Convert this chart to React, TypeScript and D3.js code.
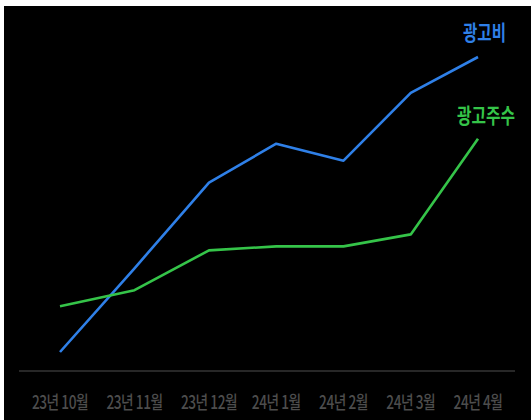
import React from "react";
import * as d3 from "d3";

const months = ["23년 10월", "23년 11월", "23년 12월", "24년 1월", "24년 2월", "24년 3월", "24년 4월"];
const adSpend = [1, 43, 86, 105.5, 97, 131, 149];
const advertisers = [24, 32, 52, 54, 54, 60, 108];
const seriesNames = ["광고비", "광고주수"];
const seriesColors = ["#2f80e8", "#35c449"];

const W = 531;
const H = 420;

export default function App() {
  // piecewise linear index scale (labels are slightly wider spaced on the left)
  const x = d3.scaleLinear().domain([0, 2, months.length - 1]).range([60, 209, 478]);
  const y = d3.scaleLinear().domain([0, 150]).range([354, 55]);
  const line = d3
    .line<number>()
    .x((_, i) => x(i))
    .y((d) => y(d));
  const font = "'Noto Sans CJK KR', 'Noto Sans', sans-serif";
  return (
    <svg
      width={W}
      height={H}
      style={{ position: "absolute", left: 0, top: 0, display: "block" }}
    >
      <rect x={0} y={0} width={W} height={H} fill="#ffffff" />
      <rect x={4} y={6} width={W - 4} height={H - 6} fill="#000000" />
      <line x1={19} x2={515} y1={371} y2={371} stroke="#353535" strokeWidth={1.5} />
      {months.map((m, i) => (
        <g key={m} transform={`translate(${x(i)},409) scale(0.76,1)`}>
          <text
            x={0}
            y={0}
            textAnchor="middle"
            fill="#4d4d4d"
            fontFamily={font}
            fontSize={18}
            fontWeight={500}
            letterSpacing={-0.6}
          >
            {m}
          </text>
        </g>
      ))}
      <path d={line(adSpend) || ""} fill="none" stroke={seriesColors[0]} strokeWidth={2.6} strokeLinejoin="round" />
      <path d={line(advertisers) || ""} fill="none" stroke={seriesColors[1]} strokeWidth={2.6} strokeLinejoin="round" />
      <g transform="translate(484.5,40) scale(0.74,1)">
        <text x={0} y={0} textAnchor="middle" fill={seriesColors[0]} fontFamily={font} fontSize={21} fontWeight={700}>
          {seriesNames[0]}
        </text>
      </g>
      <g transform="translate(486,123) scale(0.75,1)">
        <text x={0} y={0} textAnchor="middle" fill={seriesColors[1]} fontFamily={font} fontSize={21} fontWeight={700}>
          {seriesNames[1]}
        </text>
      </g>
    </svg>
  );
}
